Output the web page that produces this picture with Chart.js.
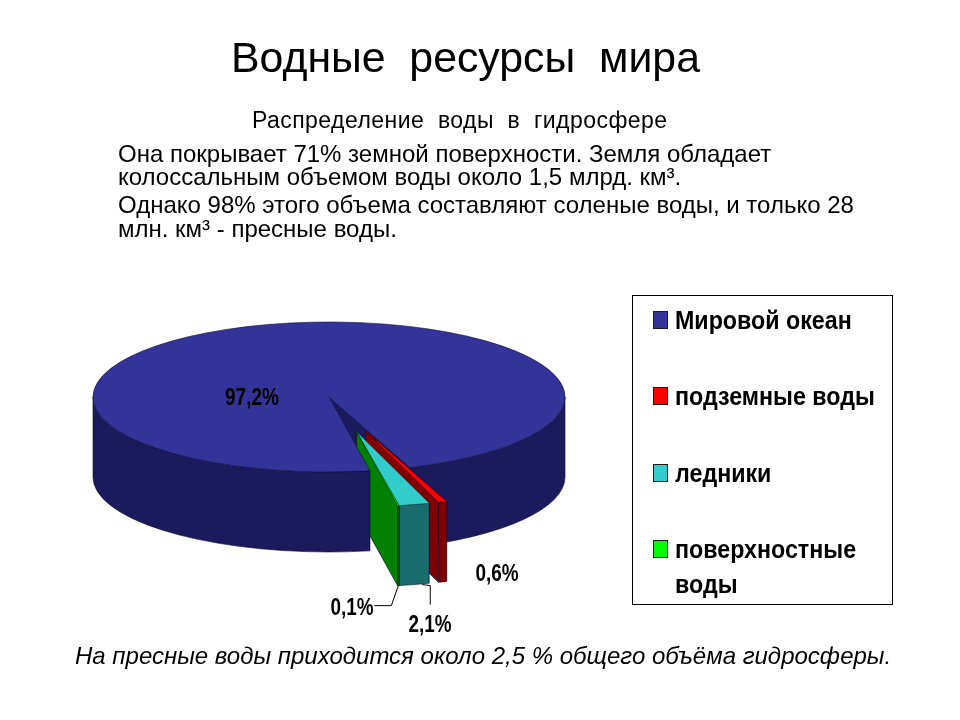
<!DOCTYPE html>
<html lang="ru">
<head>
<meta charset="utf-8">
<title>Водные ресурсы мира</title>
<script src="https://cdn.jsdelivr.net/npm/chart.js@4/dist/chart.umd.min.js"></script>
<style>
  html, body { margin: 0; padding: 0; background: #fff; }
  #page { position: relative; width: 960px; height: 720px; overflow: hidden; font-family: "Liberation Sans", Arial, sans-serif; color: #000; }
  canvas { position: absolute; left: 0; top: 0; }
  .line { position: absolute; white-space: pre; line-height: 1; }
  #legend { position: absolute; left: 632px; top: 295px; width: 259px; height: 308px; border: 1px solid #000; }
  .swatch { position: absolute; left: 20px; width: 15px; height: 18px; border: 1px solid #1a1a1a; box-sizing: border-box; }
  .entry { position: absolute; left: 42px; font-weight: bold; font-size: 25px; line-height: 35px; width: 231px; transform: scaleX(0.93); transform-origin: 0 0; }
</style>
</head>
<body>
<div id="page">
  <canvas id="pie" width="960" height="720"></canvas>
  <div class="line" style="left:231px;top:36px;font-size:42.8px;">Водные  ресурсы  мира</div>
  <div class="line" style="left:252px;top:109px;font-size:23px;letter-spacing:0.45px;">Распределение  воды  в  гидросфере</div>
  <div class="line" style="left:118px;top:142px;font-size:24px;">Она покрывает 71% земной поверхности. Земля обладает</div>
  <div class="line" style="left:118px;top:165px;font-size:24px;">колоссальным объемом воды около 1,5 млрд. км³.</div>
  <div class="line" style="left:118px;top:193px;font-size:24px;">Однако 98% этого объема составляют соленые воды, и только 28</div>
  <div class="line" style="left:118px;top:217px;font-size:24px;">млн. км³ - пресные воды.</div>
  <div class="line" style="left:75px;top:644px;font-size:24px;font-style:italic;">На пресные воды приходится около 2,5 % общего объёма гидросферы.</div>
  <div id="legend"></div>
</div>
<script>
const categories = ['Мировой океан', 'подземные воды', 'ледники', 'поверхностные воды'];
const shares = [97.2, 0.6, 2.1, 0.1];
const topColors = ['#333399', '#ff0000', '#33cccc', '#00ff00'];
const wallColors = ['#1a1a5c', '#800000', '#1a6b6b', '#008000'];

const pieRadius = 236;
const squash = 75 / 236;
const depth = 80;
const pullOut = 113;
let centerY = 0;

// point on the flattened pie, arc.x / arc.y already hold the pull out shift
function pointAt(arc, angle, r, drop) {
    return {
        x: arc.x + Math.cos(angle) * r,
        y: centerY + (arc.y - centerY + Math.sin(angle) * r) * squash + drop
    };
}

function outerWall(ctx, arc, from, to, color) {
    const a = pointAt(arc, from, pieRadius, 0);
    const c = pointAt(arc, 0, 0, 0);
    ctx.beginPath();
    ctx.moveTo(a.x, a.y);
    ctx.ellipse(c.x, c.y, pieRadius, pieRadius * squash, 0, from, to);
    ctx.ellipse(c.x, c.y + depth, pieRadius, pieRadius * squash, 0, to, from, true);
    ctx.closePath();
    ctx.fillStyle = color;
    ctx.strokeStyle = '#0c0c2a';
    ctx.lineWidth = 0.6;
    ctx.fill();
    ctx.stroke();
}

function cutFace(ctx, arc, angle, color) {
    const p1 = pointAt(arc, angle, 0, 0);
    const p2 = pointAt(arc, angle, pieRadius, 0);
    const p3 = pointAt(arc, angle, pieRadius, depth);
    const p4 = pointAt(arc, angle, 0, depth);
    ctx.beginPath();
    ctx.moveTo(p1.x, p1.y);
    ctx.lineTo(p2.x, p2.y);
    ctx.lineTo(p3.x, p3.y);
    ctx.lineTo(p4.x, p4.y);
    ctx.closePath();
    ctx.fillStyle = color;
    ctx.strokeStyle = '#0c0c2a';
    ctx.lineWidth = 0.6;
    ctx.fill();
    ctx.stroke();
}

const pie3d = {
    id: 'pie3d',
    afterDatasetUpdate(chart) {
        const arcs = chart.getDatasetMeta(0).data;
        centerY = arcs[0].y;
        // each small slice moves out along its own middle, the thin green one sticks to the cyan one
        const dirs = arcs.map((arc) => (arc.startAngle + arc.endAngle) / 2);
        dirs[3] = dirs[2];
        for (let i = 1; i < arcs.length; i++) {
            arcs[i].x += Math.cos(dirs[i]) * pullOut;
            arcs[i].y += Math.sin(dirs[i]) * pullOut;
        }
    },
    beforeDatasetsDraw(chart) {
        const ctx = chart.ctx;
        const arcs = chart.getDatasetMeta(0).data;
        const ocean = arcs[0];
        // right part of the ocean wall and the face looking into the gap
        outerWall(ctx, ocean, Math.PI * 2, ocean.endAngle, wallColors[0]);
        cutFace(ctx, ocean, ocean.endAngle, wallColors[0]);
        // pulled out slices
        for (let i = 1; i < arcs.length; i++) {
            outerWall(ctx, arcs[i], arcs[i].startAngle, arcs[i].endAngle, wallColors[i]);
            cutFace(ctx, arcs[i], arcs[i].endAngle, wallColors[i]);
        }
        // left part of the ocean wall hides the foot of the slices
        outerWall(ctx, ocean, ocean.startAngle, Math.PI, wallColors[0]);
    },
    beforeDatasetDraw(chart) {
        const ctx = chart.ctx;
        ctx.save();
        ctx.translate(0, centerY);
        ctx.scale(1, squash);
        ctx.translate(0, -centerY);
    },
    afterDatasetDraw(chart) {
        chart.ctx.restore();
    },
    afterDraw(chart) {
        const ctx = chart.ctx;
        const arcs = chart.getDatasetMeta(0).data;
        const text = (i) => shares[i].toFixed(1).replace('.', ',') + '%';
        const midPoint = (arc) => pointAt(arc, (arc.startAngle + arc.endAngle) / 2, pieRadius, depth);

        ctx.save();
        ctx.strokeStyle = '#000';
        ctx.lineWidth = 1;
        const g = midPoint(arcs[3]);
        ctx.beginPath();
        ctx.moveTo(g.x, g.y);
        ctx.lineTo(g.x - 7, g.y + 20);
        ctx.lineTo(g.x - 24, g.y + 20);
        ctx.stroke();
        const c = midPoint(arcs[2]);
        ctx.beginPath();
        ctx.moveTo(c.x + 8, c.y);
        ctx.lineTo(c.x + 16, c.y + 1);
        ctx.lineTo(c.x + 16, c.y + 20);
        ctx.stroke();

        ctx.fillStyle = '#000';
        ctx.font = 'bold 23px "Liberation Sans", sans-serif';
        ctx.textAlign = 'center';
        ctx.textBaseline = 'middle';
        ctx.fillText(text(0), 252, 399, 54);
        ctx.fillText(text(1), 497, 575, 43);
        ctx.fillText(text(3), 352, 609, 43);
        ctx.fillText(text(2), 430, 626, 43);
        ctx.restore();
    }
};

const chart = new Chart(document.getElementById('pie').getContext('2d'), {
    type: 'pie',
    data: {
        labels: categories,
        datasets: [{
            data: shares,
            backgroundColor: topColors,
            borderColor: ['#14144a', '#500000', '#145050', '#005000'],
            borderWidth: 1
        }]
    },
    options: {
        responsive: false,
        animation: false,
        rotation: 170,
        radius: pieRadius,
        layout: { padding: { left: 0, right: 302, top: 74, bottom: 0 } },
        plugins: { legend: { display: false }, tooltip: { enabled: false } }
    },
    plugins: [pie3d]
});

// legend box next to the pie
const legendBox = document.getElementById('legend');
const swatchTops = [15, 91, 168, 244];
categories.forEach((name, i) => {
    const sw = document.createElement('div');
    sw.className = 'swatch';
    sw.style.top = swatchTops[i] + 'px';
    sw.style.background = topColors[i];
    legendBox.appendChild(sw);
    const label = document.createElement('div');
    label.className = 'entry';
    label.style.top = (swatchTops[i] - 8) + 'px';
    label.textContent = name;
    legendBox.appendChild(label);
});
</script>
</body>
</html>
